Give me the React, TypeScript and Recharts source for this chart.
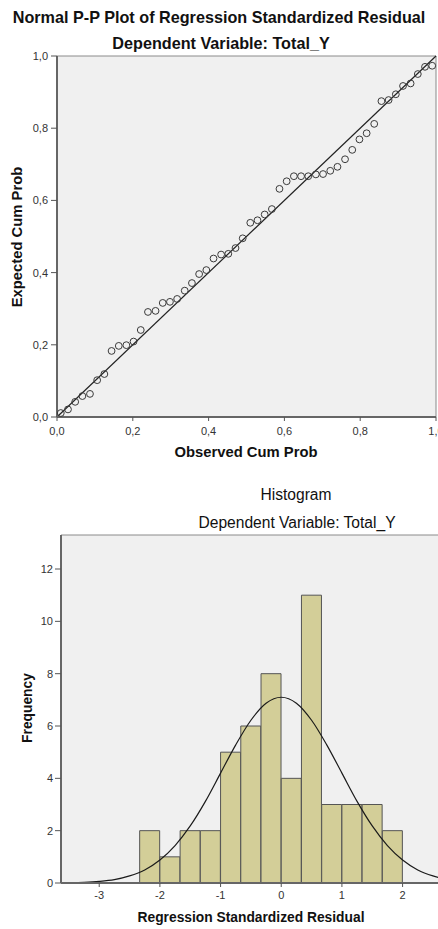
import {
  ComposedChart,
  CartesianGrid,
  XAxis,
  YAxis,
  Scatter,
  Bar,
  Line,
  ReferenceLine,
} from "recharts";
import type { CSSProperties } from "react";

// P-P plot: observed vs expected cumulative probability (52 residuals)
const observedCumProb = [
  0.01, 0.029, 0.048, 0.067, 0.087, 0.106, 0.125, 0.144, 0.163, 0.183, 0.202,
  0.221, 0.24, 0.26, 0.279, 0.298, 0.317, 0.337, 0.356, 0.375, 0.394, 0.413,
  0.433, 0.452, 0.471, 0.49, 0.51, 0.529, 0.548, 0.567, 0.587, 0.606, 0.625,
  0.644, 0.663, 0.683, 0.702, 0.721, 0.74, 0.76, 0.779, 0.798, 0.817, 0.837,
  0.856, 0.875, 0.894, 0.913, 0.933, 0.952, 0.971, 0.99,
];
const expectedCumProb = [
  0.011, 0.021, 0.042, 0.058, 0.064, 0.102, 0.119, 0.183, 0.197, 0.199, 0.209,
  0.241, 0.291, 0.294, 0.316, 0.319, 0.327, 0.35, 0.371, 0.396, 0.407, 0.439,
  0.45, 0.452, 0.468, 0.495, 0.538, 0.545, 0.561, 0.576, 0.632, 0.653, 0.667,
  0.667, 0.667, 0.672, 0.673, 0.682, 0.693, 0.714, 0.74, 0.769, 0.786, 0.812,
  0.875, 0.878, 0.894, 0.917, 0.924, 0.95, 0.97, 0.973,
];
const ppTicks = [0, 0.2, 0.4, 0.6, 0.8, 1];

// Histogram bins (width 1/3) of the standardized residual
const binMids = [
  -2.1667, -1.8333, -1.5, -1.1667, -0.8333, -0.5, -0.1667, 0.1667, 0.5, 0.8333,
  1.1667, 1.5, 1.8333,
];
const binCounts = [2, 1, 2, 2, 5, 6, 8, 4, 11, 3, 3, 3, 2];

// Normal curve
const curveX = [
  -3.6, -3.5, -3.25, -3, -2.75, -2.5, -2.25, -2, -1.75, -1.5, -1.25, -1, -0.75,
  -0.5, -0.25, 0, 0.25, 0.5, 0.75, 1, 1.25, 1.5, 1.75, 2, 2.25, 2.5, 2.75, 3,
  3.25, 3.5, 3.75, 4,
];
const curveY = [
  0.007, 0.011, 0.027, 0.062, 0.13, 0.27, 0.5, 0.88, 1.43, 2.18, 3.12, 4.2,
  5.28, 6.22, 6.87, 7.1, 6.87, 6.22, 5.28, 4.2, 3.12, 2.18, 1.43, 0.88, 0.5,
  0.27, 0.13, 0.062, 0.027, 0.011, 0.004, 0.002,
];
const histXTicks = [-3, -2, -1, 0, 1, 2];
const histYTicks = [0, 2, 4, 6, 8, 10, 12];

const FONT = '"Liberation Sans", Arial, sans-serif';

const ppPoints = observedCumProb.map((x, i) => ({ x, y: expectedCumProb[i] }));
const bins = binMids.map((mid, i) => ({ mid, count: binCounts[i] }));
const curve = curveX.map((z, i) => ({ z, f: curveY[i] }));

const commaFmt = (v: number) => v.toFixed(1).replace(".", ",");

function HollowDot(props: { cx?: number; cy?: number }) {
  if (props.cx == null || props.cy == null) return null;
  return (
    <circle
      cx={props.cx}
      cy={props.cy}
      r={3.4}
      fill="none"
      stroke="#3a3a3a"
      strokeWidth={1}
    />
  );
}

function Caption({
  x,
  y,
  text,
  size,
  bold = true,
  rotate = false,
}: {
  x: number;
  y: number;
  text: string;
  size: number;
  bold?: boolean;
  rotate?: boolean;
}) {
  const style: CSSProperties = {
    position: "absolute",
    left: x,
    top: y,
    transform: `translate(-50%, -50%)${rotate ? " rotate(-90deg)" : ""}`,
    whiteSpace: "nowrap",
    fontFamily: FONT,
    fontSize: size,
    fontWeight: bold ? "bold" : "normal",
    color: "#111",
    lineHeight: 1,
  };
  return <div style={style}>{text}</div>;
}

const tickStyle = { fill: "#333", fontSize: 11, fontFamily: FONT };
const axisLine = { stroke: "#666", strokeWidth: 2 };

export default function App() {
  return (
    <div
      style={{
        position: "absolute",
        left: 0,
        top: 0,
        width: 438,
        height: 929,
        overflow: "hidden",
        background: "#fff",
      }}
    >
      <Caption x={219} y={17} size={16.2} text="Normal P-P Plot of Regression Standardized Residual" />
      <Caption x={221} y={43} size={16.2} text="Dependent Variable: Total_Y" />

      <div style={{ position: "absolute", left: 0, top: 0 }}>
        <ComposedChart
          width={460}
          height={445}
          margin={{ top: 56, right: 24, bottom: 3, left: 0 }}
        >
          <CartesianGrid fill="#f0f0f0" horizontal={false} vertical={false} />
          <XAxis
            type="number"
            dataKey="x"
            domain={[0, 1]}
            ticks={ppTicks}
            interval={0}
            tickFormatter={commaFmt}
            height={25}
            tickSize={4}
            tickMargin={6}
            axisLine={axisLine}
            tickLine={{ stroke: "#555" }}
            tick={tickStyle}
          />
          <YAxis
            type="number"
            dataKey="y"
            domain={[0, 1]}
            ticks={ppTicks}
            interval={0}
            tickFormatter={commaFmt}
            width={57}
            tickSize={6}
            tickMargin={3}
            axisLine={axisLine}
            tickLine={{ stroke: "#555" }}
            tick={tickStyle}
          />
          <ReferenceLine y={1} stroke="#8a8a8a" />
          <ReferenceLine x={1} stroke="#8a8a8a" />
          <ReferenceLine
            segment={[
              { x: 0, y: 0 },
              { x: 1, y: 1 },
            ]}
            stroke="#222"
            strokeWidth={1.2}
          />
          <Scatter data={ppPoints} shape={HollowDot} isAnimationActive={false} />
        </ComposedChart>
      </div>
      <Caption x={246} y={452} size={14.8} text="Observed Cum Prob" />
      <Caption x={17} y={237} size={14.8} rotate text="Expected Cum Prob" />

      <Caption x={296} y={495} size={15.6} bold={false} text="Histogram" />
      <Caption x={297} y={523} size={15.6} bold={false} text="Dependent Variable: Total_Y" />

      <div style={{ position: "absolute", left: 0, top: 480 }}>
        <ComposedChart
          width={560}
          height={430}
          data={bins}
          barCategoryGap={0}
          margin={{ top: 55, right: 30, bottom: 7, left: 0 }}
        >
          <CartesianGrid fill="#f0f0f0" horizontal={false} vertical={false} />
          <XAxis
            type="number"
            dataKey="mid"
            domain={[-3.63, 4.1]}
            ticks={histXTicks}
            interval={0}
            allowDataOverflow
            height={20}
            tickSize={4}
            tickMargin={4}
            axisLine={axisLine}
            tickLine={{ stroke: "#555" }}
            tick={tickStyle}
          />
          <XAxis
            xAxisId="curve"
            type="number"
            dataKey="z"
            domain={[-3.63, 4.1]}
            allowDataOverflow
            hide
          />
          <YAxis
            type="number"
            domain={[0, 13.3]}
            ticks={histYTicks}
            interval={0}
            allowDataOverflow
            width={61}
            tickSize={6}
            tickMargin={2}
            axisLine={axisLine}
            tickLine={{ stroke: "#555" }}
            tick={tickStyle}
          />
          <ReferenceLine y={13.3} stroke="#8a8a8a" />
          <Bar
            dataKey="count"
            fill="#d3ce98"
            stroke="#555"
            strokeWidth={1}
            isAnimationActive={false}
          />
          <Line
            xAxisId="curve"
            data={curve}
            dataKey="f"
            type="monotone"
            dot={false}
            stroke="#1a1a1a"
            strokeWidth={1.2}
            isAnimationActive={false}
          />
        </ComposedChart>
      </div>
      <Caption x={251} y={918} size={13.8} text="Regression Standardized Residual" />
      <Caption x={28} y={708} size={13.8} rotate text="Frequency" />
    </div>
  );
}
